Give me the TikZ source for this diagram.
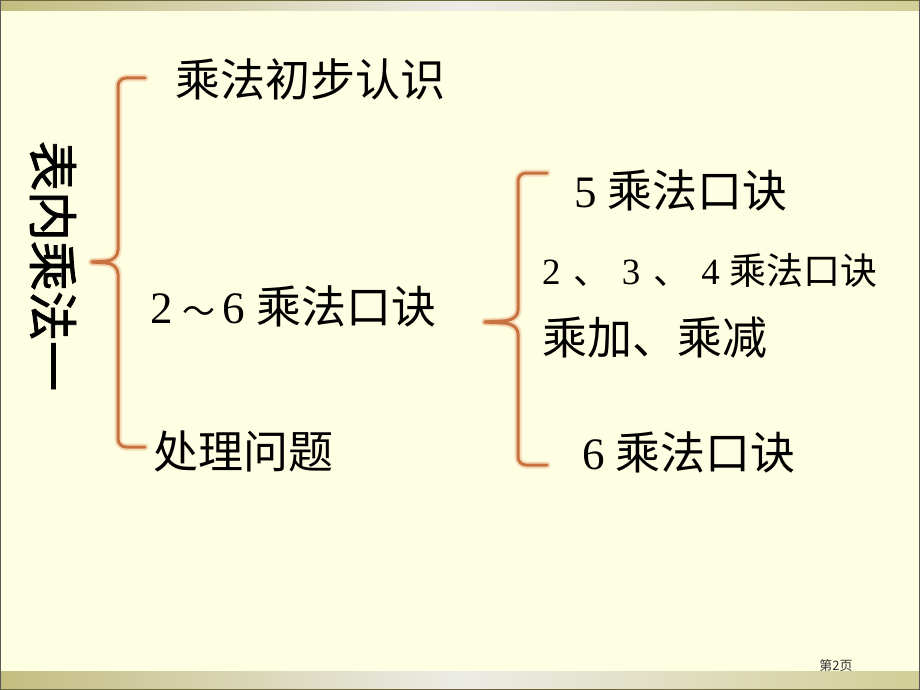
\documentclass[tikz,border=0pt]{standalone}
\usepackage{fontspec}
\setmainfont{Liberation Serif}
\newfontfamily\cjk{Noto Sans CJK SC}
\newfontfamily\cjkbold[FakeBold=1.6]{Noto Sans CJK SC}
\usetikzlibrary{calc}
\definecolor{bgyellow}{HTML}{FEFEE3}
\definecolor{stripL}{HTML}{C4BD80}
\definecolor{stripM}{HTML}{ECECE6}
\definecolor{stripR}{HTML}{D2CE96}
\definecolor{edge}{HTML}{6E6A3C}
\definecolor{bracec}{HTML}{C8733F}
\definecolor{braceglow}{HTML}{EDBE93}
\tikzset{
  txt/.style={anchor=west, inner sep=0pt, text=black, font=\fontsize{45}{45}\selectfont},
  smalltxt/.style={anchor=west, inner sep=0pt, text=black, font=\fontsize{37}{37}\selectfont},
  bracepath/.style={draw=bracec, line width=3pt, line cap=round, line join=round},
  braceglowpath/.style={draw=braceglow, line width=7pt, opacity=0.55, line cap=round, line join=round},
}
\begin{document}
\begin{tikzpicture}[x=1pt,y=-1pt]
\useasboundingbox (0,0) rectangle (920,690);
% background
\fill[bgyellow] (0,0) rectangle (920,690);
% top and bottom strips
\shade[left color=stripL, right color=stripM] (0,0) rectangle (460,11);
\shade[left color=stripM, right color=stripR] (460,0) rectangle (920,11);
\shade[left color=stripL, right color=stripM] (0,671) rectangle (460,690);
\shade[left color=stripM, right color=stripR] (460,671) rectangle (920,690);
\draw[edge, line width=1.2pt] (0,0.6) -- (920,0.6);
\draw[edge, line width=1.2pt] (0,689.4) -- (920,689.4);
\draw[gray!70!black, line width=1pt] (0.5,0) -- (0.5,690);
\draw[gray!70!black, line width=1pt] (919.5,0) -- (919.5,690);

% coordinates for braces
\coordinate (b1top) at (145,78);
\coordinate (b1tip) at (92,262);
\coordinate (b1bot) at (145,447);
\coordinate (b2top) at (547,173);
\coordinate (b2tip) at (485,322);
\coordinate (b2bot) at (547,465);

% braces
\foreach \st in {braceglowpath,bracepath}{
  \path[\st] (b1top) -- (126,78) to[out=180,in=90] (118,86) -- (118,250)
     to[out=-90,in=0] (106,261) -- (b1tip);
  \path[\st] (b1tip) -- (106,263) to[out=0,in=90] (118,274) -- (118,439)
     to[out=-90,in=180] (126,447) -- (b1bot);
  \path[\st] (b2top) -- (526,173) to[out=180,in=90] (518,181) -- (518,310)
     to[out=-90,in=0] (502,321) -- (b2tip);
  \path[\st] (b2tip) -- (502,323) to[out=0,in=90] (518,334) -- (518,457)
     to[out=-90,in=180] (526,465) -- (b2bot);
}

% title
\node[rotate=-90, inner sep=0pt, font=\cjkbold\fontsize{50}{50}\selectfont] (title) at (53,266) {表内乘法一};

% first level
\node[txt] (n1) at (175,79) {\cjk 乘法初步认识};
\node[txt] (n2) at (150,306) {2\hspace{0.22em}{\cjk\fontsize{33}{33}\selectfont ～}\hspace{0.15em}6 {\cjk 乘法口诀}};
\node[txt] (n3) at (153,451) {\cjk 处理问题};

% second level
\node[txt] (m1) at (574,190) {5 {\cjk 乘法口诀}};
\node[smalltxt] (m2) at (542,270) {2\hspace{0.35em}{\cjk 、}\hspace{0.3em}3\hspace{0.35em}{\cjk 、}\hspace{0.3em}4 {\cjk 乘法口诀}};
\node[txt] (m3) at (542,338) {\cjk 乘加、乘减};
\node[txt] (m4) at (582,452) {6 {\cjk 乘法口诀}};

% page number
\node[inner sep=0pt, text=black!80, font=\cjk\fontsize{13}{13}\selectfont] (pg) at (836,666) {第2页};
\end{tikzpicture}
\end{document}
